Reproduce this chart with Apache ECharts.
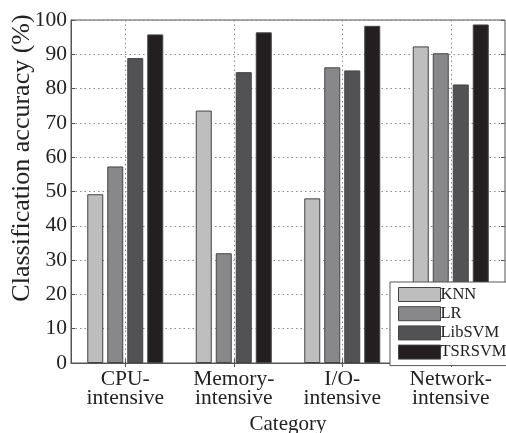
<!DOCTYPE html>
<html>
<head>
<meta charset="utf-8">
<script src="https://cdn.jsdelivr.net/npm/echarts@6/dist/echarts.min.js"></script>
<style>
html,body{margin:0;padding:0;background:#fff;}
#chart{width:506px;height:433px;}
</style>
</head>
<body>
<div id="chart"></div>
<script>
const categories = ['CPU-\nintensive', 'Memory-\nintensive', 'I/O-\nintensive', 'Network-\nintensive'];
const knn = [49.2, 73.6, 48.0, 92.3];
const lr = [57.3, 32.0, 86.2, 90.3];
const libsvm = [88.9, 84.8, 85.3, 81.2];
const tsrsvm = [95.8, 96.4, 98.3, 98.7];
const seriesNames = ['KNN', 'LR', 'LibSVM', 'TSRSVM'];
const seriesColors = ['#bebebe', '#88888a', '#525254', '#231f20'];
const yTicks = [0, 10, 20, 30, 40, 50, 60, 70, 80, 90, 100];

const FONT = '"Liberation Serif", "Times New Roman", serif';
const chart = echarts.init(document.getElementById('chart'), null, {renderer: 'canvas'});
const dataSets = [knn, lr, libsvm, tsrsvm];
const gridLine = {show: true, lineStyle: {color: '#8a8a8a', width: 1, type: [1.5, 3]}};
const tickStyle = {show: true, inside: true, length: 4, lineStyle: {color: '#555'}};

chart.setOption({
  animation: false,
  backgroundColor: '#fff',
  grid: {left: 71, right: 1, top: 20, bottom: 70, show: true, borderColor: '#555', borderWidth: 1,
    backgroundColor: 'transparent', containLabel: false, outerBoundsMode: 'none'},
  legend: {
    data: seriesNames,
    orient: 'vertical',
    icon: 'rect',
    left: 390, top: 282,
    padding: [4, 4, 5, 8],
    itemWidth: 42, itemHeight: 14, itemGap: 2.2,
    backgroundColor: '#fff',
    borderColor: '#555', borderWidth: 1,
    textStyle: {fontFamily: FONT, fontSize: 16.5, color: '#222', padding: [0, 0, 0, -5]},
    itemStyle: {borderColor: '#444', borderWidth: 1}
  },
  xAxis: [{
    type: 'category',
    data: categories,
    name: 'Category',
    nameLocation: 'middle',
    nameGap: 48,
    nameTextStyle: {fontFamily: FONT, fontSize: 21, color: '#222'},
    axisLine: {lineStyle: {color: '#555'}},
    axisTick: Object.assign({alignWithLabel: true}, tickStyle),
    axisLabel: {fontFamily: FONT, fontSize: 21.5, color: '#222', lineHeight: 19, margin: 6.5},
    splitLine: Object.assign({alignWithLabel: true}, gridLine)
  }, {
    type: 'category',
    position: 'top',
    data: categories,
    axisLine: {show: false},
    axisTick: Object.assign({alignWithLabel: true}, tickStyle),
    axisLabel: {show: false},
    splitLine: {show: false}
  }],
  yAxis: [{
    type: 'value',
    min: 0, max: 100, interval: 10,
    axisLine: {show: true, lineStyle: {color: '#555'}},
    axisTick: tickStyle,
    axisLabel: {fontFamily: FONT, fontSize: 21.5, color: '#222', margin: 4,
      formatter: v => yTicks.includes(v) ? String(v) : ''},
    splitLine: gridLine
  }, {
    type: 'value',
    position: 'right',
    min: 0, max: 100, interval: 10,
    axisLine: {show: false},
    axisTick: tickStyle,
    axisLabel: {show: false},
    splitLine: {show: false}
  }],
  graphic: [{
    type: 'text',
    x: 22, y: 158,
    rotation: Math.PI / 2,
    style: {text: 'Classification accuracy (%)', fontFamily: FONT, fontSize: 26, fill: '#222', textAlign: 'center', textVerticalAlign: 'middle'}
  }],
  series: seriesNames.map((n, i) => ({
    name: n,
    type: 'bar',
    data: dataSets[i],
    barWidth: 16,
    barGap: '25%',
    itemStyle: {color: seriesColors[i], borderColor: '#444', borderWidth: 1}
  }))
});
</script>
</body>
</html>
